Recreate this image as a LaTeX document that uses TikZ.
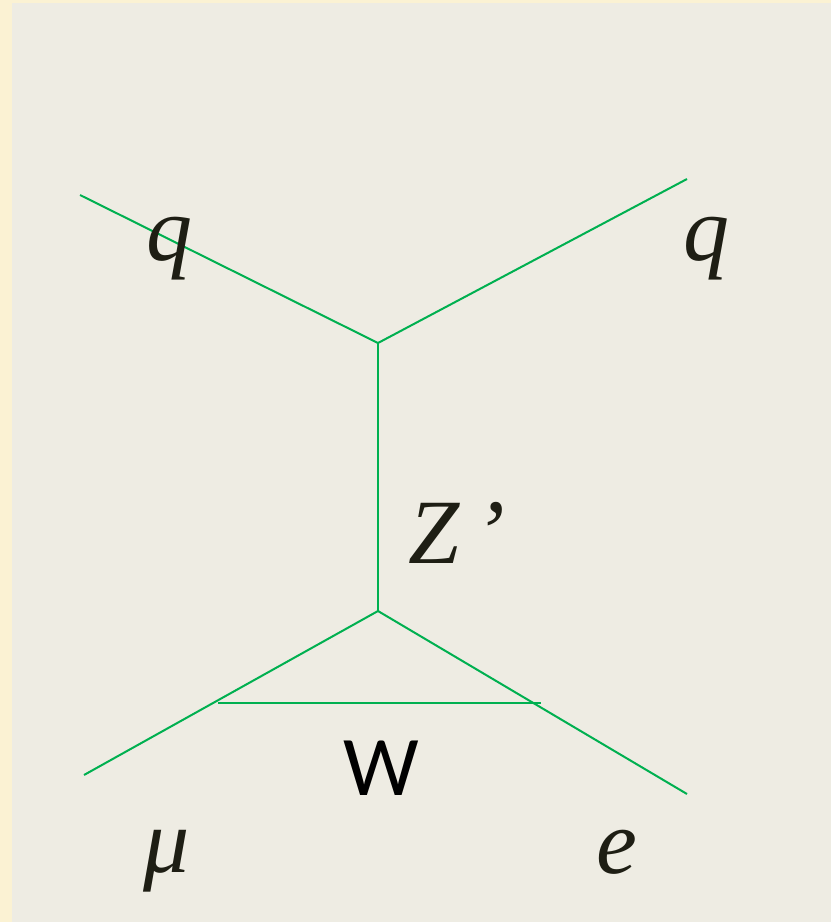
\documentclass[tikz,border=0pt]{standalone}
\usepackage{fontspec}
\setmainfont{Liberation Serif}
\newfontfamily\wfont{Carlito}
\definecolor{outerbg}{HTML}{FBF2D3}
\definecolor{panelbg}{HTML}{EEECE3}
\definecolor{linegreen}{HTML}{00B050}
\definecolor{labeltext}{HTML}{1E1E14}
\tikzset{
  prop/.style={draw=linegreen, line width=2pt},
  lbl/.style={inner sep=0pt, anchor=base west, text=labeltext, font=\fontsize{92}{96}\selectfont\itshape},
  wlbl/.style={inner sep=0pt, anchor=base west, text=black, font=\fontsize{85}{90}\selectfont\wfont},
  vtx/.style={inner sep=0pt, minimum size=0pt}
}
\begin{document}
\begin{tikzpicture}[x=1pt, y=-1pt]
\useasboundingbox (0,0) rectangle (831,922);
\fill[outerbg] (0,0) rectangle (831,922);
\fill[panelbg] (12,3) rectangle (831,922);
% vertices and external points
\coordinate (qin) at (80,195);
\coordinate (qout) at (687,179);
\coordinate (v1) at (378,343);
\coordinate (v2) at (378,611);
\coordinate (mu) at (84,775);
\coordinate (el) at (687,794);
\coordinate (wl) at (218,703);
\coordinate (wr) at (541,703);
% propagators
\draw[prop] (qin) -- (v1);
\draw[prop] (qout) -- (v1);
\draw[prop] (v1) -- (v2);
\draw[prop] (mu) -- (v2);
\draw[prop] (v2) -- (el);
\draw[prop] (wl) -- (wr);
% labels
\node[lbl] (lq1) at (146,260) {q};
\node[lbl] (lq2) at (683,260) {q};
\node[lbl] (lz) at (408,563) {Z\,’};
\node[wlbl] (lw) at (343,795) {W};
\node[lbl] (lmu) at (143,872) {μ};
\node[lbl] (le) at (596,873) {e};
\end{tikzpicture}
\end{document}
